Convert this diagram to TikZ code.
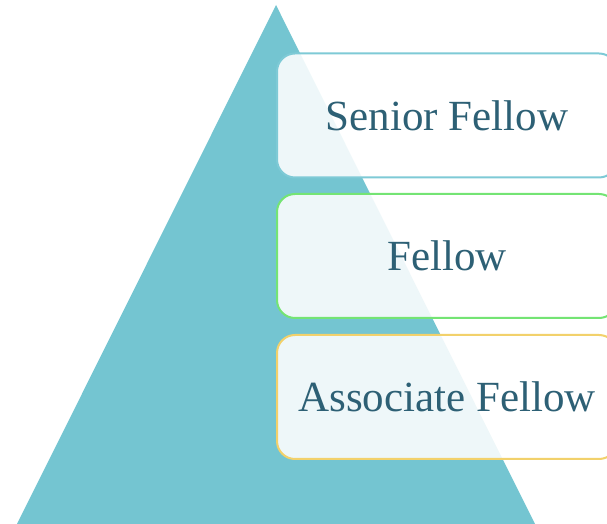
\documentclass[tikz,border=0pt]{standalone}
\usepackage{fontspec}
\setmainfont{Liberation Serif}
\definecolor{pyramid}{HTML}{74C5D1}
\definecolor{seniorline}{HTML}{7ECAD6}
\definecolor{fellowline}{HTML}{74E474}
\definecolor{assocline}{HTML}{F2D16B}
\definecolor{tiertext}{HTML}{2D6075}
\tikzset{
	tier/.style={rounded corners=18pt, line width=2pt, fill=white, fill opacity=0.88,
		text opacity=1, text=tiertext, minimum width=340pt, minimum height=124pt,
		inner sep=0pt, font=\fontsize{43}{45}\selectfont}
}
\begin{document}
\begin{tikzpicture}[x=1pt, y=1pt]
		\clip (0, 0) rectangle (607, 524);
		\coordinate (top) at (276, 519);
		\coordinate (left) at (17, 0);
		\coordinate (right) at (535, 0);
		\fill[pyramid] (top) -- (left) -- (right) -- cycle;
		\node[tier, draw=seniorline] (senior) at (447, 408.5) {Senior Fellow};
		\node[tier, draw=fellowline] (fellow) at (447, 268) {Fellow};
		\node[tier, draw=assocline] (assoc) at (447, 127) {Associate Fellow};
\end{tikzpicture}
\end{document}
